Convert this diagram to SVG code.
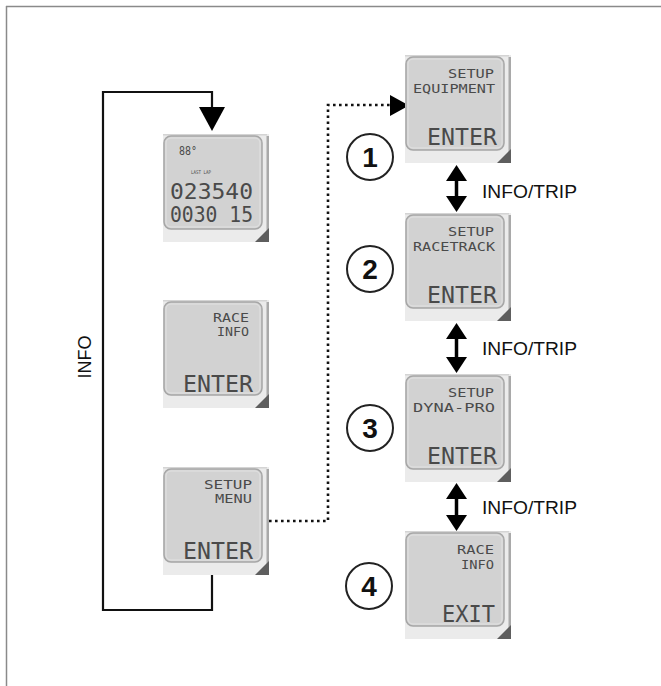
<svg xmlns="http://www.w3.org/2000/svg" width="661" height="686" viewBox="0 0 661 686">
<defs>
<style>
.bez{fill:#ebebeb}
.top{stroke:#d4d4d4;stroke-width:1.5}
.edge{fill:#a9a9a9}
.lcd{fill:#d2d2d2;stroke:#a6a6a6;stroke-width:1.5}
.lcdin{fill:none;stroke:#e2e2e2;stroke-width:1}
.cor{fill:#5e5e5e}
.seg{font-family:"DejaVu Sans Mono","Liberation Mono",monospace;fill:#4a4a4a;text-anchor:end}
.s1{font-size:13px}
.s2{font-size:23px}
.lbl{font-family:"Liberation Sans",Arial,sans-serif;font-size:18px;fill:#111}
.num{font-family:"Liberation Sans",Arial,sans-serif;font-size:28px;font-weight:bold;fill:#111;text-anchor:middle}
.circ{fill:#fff;stroke:#222;stroke-width:2}
.line{fill:none;stroke:#111;stroke-width:2.2}
.dot{fill:none;stroke:#111;stroke-width:2.6;stroke-dasharray:2.6 3.4}
.ar{fill:#000}
</style>
<g id="scr">
<rect class="bez" x="0" y="0" width="106" height="108"/>
<line class="top" x1="0" y1="0.75" x2="104" y2="0.75"/>
<rect class="edge" x="103.5" y="2" width="2.5" height="106"/>
<rect class="lcd" x="1" y="2" width="98" height="93" rx="7"/>
<rect class="lcdin" x="3" y="4" width="94" height="89" rx="5"/>
<polygon class="cor" points="106,94 106,108 92,108"/>
</g>
</defs>
<line x1="6" y1="6.5" x2="661" y2="6.5" stroke="#8a8a8a" stroke-width="1.5"/>
<line x1="6.5" y1="6" x2="6.5" y2="686" stroke="#8a8a8a" stroke-width="1.5"/>

<g id="connectors">
<path class="line" d="M212,574 V610 H103 V92 H212 V110"/>
<polygon class="ar" points="199,107 225,107 212,131"/>
<path class="dot" d="M269,521 H328 V105 H392"/>
<polygon class="ar" points="390,95 390,116 409,105.5"/>
<g id="arrow1">
<line x1="456.5" y1="176" x2="456.5" y2="200" stroke="#000" stroke-width="3.5"/>
<polygon class="ar" points="446,181 467,181 456.5,165"/>
<polygon class="ar" points="446,196 467,196 456.5,212"/>
</g>
<g id="arrow2">
<line x1="456.5" y1="333" x2="456.5" y2="361" stroke="#000" stroke-width="3.5"/>
<polygon class="ar" points="446,339 467,339 456.5,323"/>
<polygon class="ar" points="446,357 467,357 456.5,373"/>
</g>
<g id="arrow3">
<line x1="456.5" y1="494" x2="456.5" y2="520" stroke="#000" stroke-width="3.5"/>
<polygon class="ar" points="446,499 467,499 456.5,483"/>
<polygon class="ar" points="446,515 467,515 456.5,531"/>
</g>
<text class="lbl" x="482" y="198" textLength="95" lengthAdjust="spacingAndGlyphs">INFO/TRIP</text>
<text class="lbl" x="482" y="355" textLength="95" lengthAdjust="spacingAndGlyphs">INFO/TRIP</text>
<text class="lbl" x="482" y="514" textLength="95" lengthAdjust="spacingAndGlyphs">INFO/TRIP</text>
<text class="lbl" transform="translate(91,357) rotate(-90)" text-anchor="middle">INFO</text>
</g>

<g id="screen-main" transform="translate(163,134)">
<use href="#scr"/>
<text class="seg" x="34" y="21" style="font-size:12px" textLength="18" lengthAdjust="spacingAndGlyphs">88°</text>
<text class="seg" x="48" y="40" style="font-size:5px" textLength="20" lengthAdjust="spacingAndGlyphs">LAST LAP</text>
<text class="seg" x="90" y="65" style="font-size:22px" textLength="83" lengthAdjust="spacingAndGlyphs">023540</text>
<text class="seg" x="90" y="88" style="font-size:22px" textLength="83" lengthAdjust="spacingAndGlyphs">0030 15</text>
</g>

<g id="screen-raceinfo" transform="translate(163,300)">
<use href="#scr"/>
<text class="seg s1" x="86" y="22" textLength="36" lengthAdjust="spacingAndGlyphs">RACE</text>
<text class="seg s1" x="86" y="36" textLength="32" lengthAdjust="spacingAndGlyphs">INFO</text>
<text class="seg s2" x="90" y="92" textLength="70" lengthAdjust="spacingAndGlyphs">ENTER</text>
</g>

<g id="screen-setupmenu" transform="translate(163,467)">
<use href="#scr"/>
<text class="seg s1" x="89" y="22" textLength="48" lengthAdjust="spacingAndGlyphs">SETUP</text>
<text class="seg s1" x="89" y="36" textLength="37" lengthAdjust="spacingAndGlyphs">MENU</text>
<text class="seg s2" x="90" y="92" textLength="70" lengthAdjust="spacingAndGlyphs">ENTER</text>
</g>

<g id="screen-equipment" transform="translate(405,55)">
<use href="#scr"/>
<text class="seg s1" x="89" y="23" textLength="46" lengthAdjust="spacingAndGlyphs">SETUP</text>
<text class="seg s1" x="90" y="38" textLength="82" lengthAdjust="spacingAndGlyphs">EQUIPMENT</text>
<text class="seg s2" x="92" y="90" textLength="70" lengthAdjust="spacingAndGlyphs">ENTER</text>
</g>

<g id="screen-racetrack" transform="translate(405,213)">
<use href="#scr"/>
<text class="seg s1" x="89" y="23" textLength="46" lengthAdjust="spacingAndGlyphs">SETUP</text>
<text class="seg s1" x="90" y="38" textLength="82" lengthAdjust="spacingAndGlyphs">RACETRACK</text>
<text class="seg s2" x="92" y="90" textLength="70" lengthAdjust="spacingAndGlyphs">ENTER</text>
</g>

<g id="screen-dynapro" transform="translate(405,374)">
<use href="#scr"/>
<text class="seg s1" x="89" y="23" textLength="46" lengthAdjust="spacingAndGlyphs">SETUP</text>
<text class="seg s1" x="90" y="38" textLength="82" lengthAdjust="spacingAndGlyphs">DYNA-PRO</text>
<text class="seg s2" x="92" y="90" textLength="70" lengthAdjust="spacingAndGlyphs">ENTER</text>
</g>

<g id="screen-exit" transform="translate(405,531)">
<use href="#scr"/>
<text class="seg s1" x="89" y="23" textLength="37" lengthAdjust="spacingAndGlyphs">RACE</text>
<text class="seg s1" x="89" y="38" textLength="33" lengthAdjust="spacingAndGlyphs">INFO</text>
<text class="seg s2" x="90" y="91" textLength="53" lengthAdjust="spacingAndGlyphs">EXIT</text>
</g>

<g id="step1"><circle class="circ" cx="370" cy="157" r="23"/><text class="num" x="370" y="167">1</text></g>
<g id="step2"><circle class="circ" cx="370" cy="269" r="23"/><text class="num" x="370" y="279">2</text></g>
<g id="step3"><circle class="circ" cx="370" cy="428" r="23"/><text class="num" x="370" y="438">3</text></g>
<g id="step4"><circle class="circ" cx="369" cy="586" r="23"/><text class="num" x="369" y="596">4</text></g>
</svg>
